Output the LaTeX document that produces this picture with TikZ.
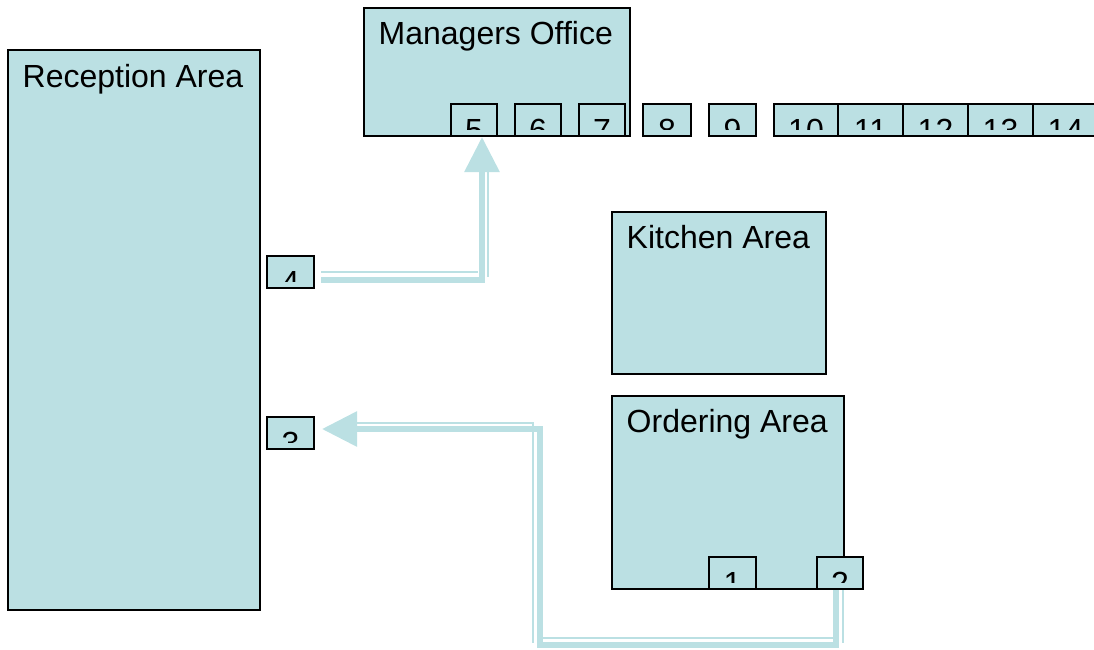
\documentclass[tikz,border=0pt]{standalone}
\usepackage{fontspec}
\setmainfont{Liberation Sans}
\usetikzlibrary{arrows.meta,calc}
\definecolor{fillc}{HTML}{BBE0E3}
\tikzset{
  area/.style={draw=black, line width=1.8pt, fill=fillc, inner sep=0pt, outer sep=0pt, anchor=north west},
  lbl/.style={inner sep=0pt, anchor=base west, font=\fontsize{32}{38}\selectfont},
  numtxt/.style={inner sep=0pt, anchor=base, font=\fontsize{32}{38}\selectfont},
  flow/.style={draw=fillc, line width=6pt, -{Triangle[width=34pt,length=35pt]}},
  flowthin/.style={draw=fillc, line width=2pt},
}
\newcommand\nbox[5]{%
  \node[area, minimum width=#3pt, minimum height=32pt] (#1) at (#2,#4) {};
  \begin{scope}
    \clip ($(#1.north west)+(1,1)$) rectangle ($(#1.north east)+(-1,25)$);
    \node[numtxt] (#1t) at ($(#1.north)+(0,37)$) {#5};
  \end{scope}}
\begin{document}
\begin{tikzpicture}[x=1pt,y=-1pt]
\useasboundingbox (0,0) rectangle (1094,649);
\clip (0,0) rectangle (1094,649);
% areas
\node[area, minimum width=252pt, minimum height=560pt] (rec) at (8,50) {};
\node[lbl] (recl) at ($(rec.north west)+(14.5,37)$) {Reception Area};
\node[area, minimum width=266pt, minimum height=128pt] (mgr) at (364,8) {};
\node[lbl] (mgrl) at ($(mgr.north west)+(14.5,36)$) {Managers Office};
\node[area, minimum width=214pt, minimum height=162pt] (kit) at (612,212) {};
\node[lbl] (kitl) at ($(kit.north west)+(14.5,36)$) {Kitchen Area};
\node[area, minimum width=232pt, minimum height=193pt] (ord) at (612,396) {};
\node[lbl] (ordl) at ($(ord.north west)+(14.5,36)$) {Ordering Area};
% numbered boxes
\nbox{b5}{451}{46}{104}{5}
\nbox{b6}{515}{46}{104}{6}
\nbox{b7}{579}{46}{104}{7}
\nbox{b8}{643}{48}{104}{8}
\nbox{b9}{709}{47}{104}{9}
\nbox{b10}{774}{64}{104}{10}
\nbox{b11}{838}{65}{104}{11}
\nbox{b12}{903}{65}{104}{12}
\nbox{b13}{968}{65}{104}{13}
\nbox{b14}{1033}{65}{104}{14}
\nbox{b4}{267}{47}{256}{4}
\nbox{b3}{267}{47}{417}{3}
\nbox{b1}{709}{47}{557}{1}
\nbox{b2}{817}{46}{557}{2}
% connector 4 -> 5
\draw[flow] ($(b4.east)+(7,8)$) -| ($(b5.south)+(8,1)$);
\draw[flowthin] ($(b4.east)+(7,0)$) -- ++(157,0);
\draw[flowthin] ($(b5.south)+(14,36)$) -- ++(0,105);
% connector 2 -> 3
\draw[flow] ($(b2.south)+(-4,1)$) -- ++(0,55) -| ($(b3.east)+(226,-4)$) -- ($(b3.east)+(8,-4)$);
\draw[flowthin] ($(b3.east)+(43,-10)$) -| ++(176,220);
\draw[flowthin] ($(b2.south)+(-298,49)$) -- ++(291,0);
\draw[flowthin] ($(b2.south)+(3,1)$) -- ++(0,53);
\end{tikzpicture}
\end{document}
